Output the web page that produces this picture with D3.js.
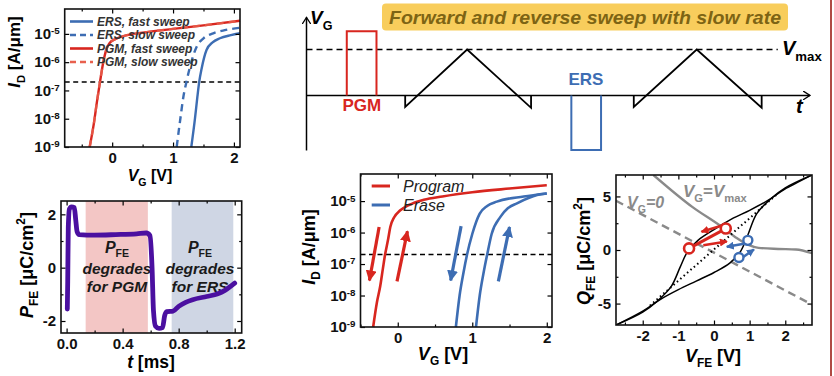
<!DOCTYPE html>
<html><head><meta charset="utf-8">
<script src="https://cdn.jsdelivr.net/npm/d3@7"></script>
<style>
body{margin:0;background:#fff}
svg{display:block;font-family:Arial,"Liberation Sans",sans-serif}
</style>
</head><body><script>
// ---- data ----
// panel a: ID-VG, fast vs slow sweep  [VG, ID]
const pgmFast = [[-0.37,1e-9],[-0.3,7e-9],[-0.25,4e-8],[-0.2,2e-7],[-0.15,9e-7],[-0.1,2.6e-6],[-0.05,4.5e-6],[0.05,6.5e-6],[0.2,8.5e-6],[0.5,1.1e-5],[1.0,1.5e-5],[1.5,2e-5],[2.1,2.9e-5]];
const pgmSlow = pgmFast;
const ersFast = [[1.3,1e-9],[1.36,1e-8],[1.4,6e-8],[1.43,2e-7],[1.47,6e-7],[1.55,2.7e-6],[1.65,5e-6],[1.77,7e-6],[1.95,9e-6],[2.1,1.05e-5]];
const ersSlow = [[1.06,1e-9],[1.12,1e-8],[1.17,6e-8],[1.22,2e-7],[1.28,7e-7],[1.39,3.6e-6],[1.5,7e-6],[1.66,1.05e-5],[1.85,1.35e-5],[2.1,1.65e-5]];
const legendA = ["ERS, fast sweep","ERS, slow sweep","PGM, fast sweep","PGM, slow sweep"];
const readCurrent = 2e-7;

// panel b: P_FE vs time  [t ms, P uC/cm2]
const pfe = [[0.005,-1.55],[0.008,-0.5],[0.012,1.5],[0.02,2.2],[0.035,2.28],[0.055,2.25],[0.065,1.8],[0.075,1.35],[0.09,1.24],[0.2,1.22],[0.35,1.24],[0.5,1.27],[0.57,1.3],[0.595,1.2],[0.61,0],[0.62,-1.6],[0.635,-2.2],[0.66,-2.28],[0.685,-2.25],[0.7,-1.8],[0.715,-1.65],[0.76,-1.63],[0.8,-1.45],[0.85,-1.3],[0.9,-1.2],[1.0,-1.08],[1.08,-0.98],[1.13,-0.85],[1.2,-0.58]];
const pgmWindow = [0.136, 0.58];
const ersWindow = [0.75, 1.19];

// panel c: gate waveform schematic [t a.u., V a.u.]
const pgmPulse = [[8,0],[8,1.4],[13.9,1.4],[13.9,0]];
const ersPulse = [[52.6,0],[52.6,-1.19],[58.5,-1.19],[58.5,0]];
const sweep1 = [[19.6,0],[19.6,-0.25],[31.9,1],[44.6,-0.27],[44.6,0]];
const sweep2 = [[65,0],[65,-0.25],[77.5,1],[90.4,-0.27],[90.4,0]];
const vmax = 1;

// panel d: slow forward/reverse sweep  [VG, ID]
const program = [[-0.33,1e-9],[-0.28,6e-9],[-0.235,2e-8],[-0.2,7e-8],[-0.17,2e-7],[-0.13,6e-7],[-0.1,1.5e-6],[-0.05,3e-6],[0.03,5e-6],[0.15,7.5e-6],[0.35,1.1e-5],[0.6,1.4e-5],[1.0,1.9e-5],[1.5,2.5e-5],[2.0,3.2e-5]];
const eraseRev = [[0.78,1e-9],[0.83,1e-8],[0.88,5e-8],[0.93,2e-7],[1.0,9e-7],[1.1,4e-6],[1.2,7e-6],[1.33,9.6e-6],[1.69,1.4e-5],[2.0,1.75e-5]];
const eraseFwd = [[1.05,1e-9],[1.1,1e-8],[1.15,5e-8],[1.2,2e-7],[1.26,9e-7],[1.38,3.2e-6],[1.48,6e-6],[1.6,8.5e-6],[1.87,1.55e-5],[2.0,1.75e-5]];
const arrowsD = [
  {c:"red",  from:[-0.25,1.5e-6], to:[-0.38,3e-8]},
  {c:"red",  from:[-0.01,2.8e-8], to:[0.13,1.1e-6]},
  {c:"blue", from:[0.85,1.6e-6],  to:[0.71,3e-8]},
  {c:"blue", from:[1.35,2.8e-8],  to:[1.5,1.5e-6]}
];

// panel e: Q_FE - V_FE  [V, Q]
const loopUp = [[-2.75,-7],[-2.0,-5.8],[-1.6,-4.8],[-1.2,-3.4],[-0.95,-1.6],[-0.75,-0.2],[-0.45,0.9],[0,1.9],[0.5,2.9],[1.0,3.7],[1.5,4.6],[2.0,5.7],[2.75,7]];
const loopDown = [[-2.75,-7],[-2.0,-5.7],[-1.5,-4.6],[-1.0,-3.7],[-0.5,-2.9],[0,-2.1],[0.45,-1.2],[0.75,-0.1],[0.95,1.4],[1.2,3.4],[1.6,4.8],[2.0,5.8],[2.75,7]];
const linearQ = [[-1.8,-5.2],[1.8,5.3]];
const loadMax = [[-1.7,7],[-0.6,4.0],[0.2,2.2],[0.6,1.2],[0.95,0.5],[1.25,0.2],[1.8,0.1],[2.3,0.05],[2.75,-0.3]];
const loadZero = [[-2.75,4.6],[2.75,-5.1]];
const redPts = [[-0.7,0.15],[0.33,2.0]];
const bluePts = [[0.95,0.9],[0.7,-0.7]];
const arrowsE = [
  {c:"red",  from:[0.3,2.35], to:[-0.35,1.7]},
  {c:"red",  from:[-0.3,0.45], to:[0.36,0.8]},
  {c:"blue", from:[0.88,0.6], to:[0.36,0.3]},
  {c:"blue", from:[0.82,-0.65], to:[1.12,0.05]}
];

const RED = "#d8261f", BLUE = "#3d6db3", PURPLE = "#4b10a0", GRAY = "#8a8a8a";

const svg = d3.select("body").append("svg").attr("width",834).attr("height",376);
const defs = svg.append("defs");

function marker(id, color, len, wid, open) {
  const m = defs.append("marker").attr("id",id).attr("markerUnits","userSpaceOnUse")
    .attr("viewBox",`0 0 ${len} ${wid}`).attr("markerWidth",len).attr("markerHeight",wid)
    .attr("refX",len-1).attr("refY",wid/2).attr("orient","auto");
  if (open) m.append("path").attr("d",`M0,0L${len-1},${wid/2}L0,${wid}`).attr("fill","none").attr("stroke",color).attr("stroke-width",1.3);
  else m.append("path").attr("d",`M0,0L${len},${wid/2}L0,${wid}Z`).attr("fill",color);
}
marker("axArrow","#000",8,9,true);
marker("redBig",RED,11,11);
marker("blueBig",BLUE,11,11);
marker("redSmall",RED,8,8);
marker("blueSmall",BLUE,8,8);

// rich text: parts = [{t, i, sub, sup}]
function rich(x, y, parts, size, attrs = {}) {
  const t = svg.append("text").attr("x",x).attr("y",y).attr("font-size",size).attr("font-weight","bold");
  Object.entries(attrs).forEach(([k,v]) => t.attr(k,v));
  let shift = 0;
  parts.forEach(p => {
    const s = t.append("tspan").text(p.t);
    const want = p.sub ? 0.3*size : p.sup ? -0.45*size : 0;
    if (want !== shift) { s.attr("dy", want - shift); shift = want; }
    if (p.sub || p.sup) s.attr("font-size", size*0.66);
    if (p.i) s.attr("font-style","italic");
  });
  return t;
}

function logLabels(g) {
  g.selectAll(".tick text").each(function(d) {
    const t = d3.select(this).text(null);
    t.append("tspan").text("10");
    t.append("tspan").attr("dy","-0.5em").attr("font-size","0.65em").text(Math.round(Math.log10(d)));
  });
}

// frame + inward ticks on all sides
function frame(x, y, o) {
  const [x0,x1] = x.range(), [yb,yt] = y.range();
  const g = svg.append("g");
  const put = (axis, tr) => g.append("g").attr("transform",tr).call(axis).call(a => a.select(".domain").remove());
  if (o.xMinor) {
    put(d3.axisBottom(x).tickValues(o.xMinor).tickSize(-2.5).tickFormat(""), `translate(0,${yb})`);
    put(d3.axisTop(x).tickValues(o.xMinor).tickSize(-2.5).tickFormat(""), `translate(0,${yt})`);
  }
  if (o.yMinor) {
    put(d3.axisLeft(y).tickValues(o.yMinor).tickSize(-2.5).tickFormat(""), `translate(${x0},0)`);
    put(d3.axisRight(y).tickValues(o.yMinor).tickSize(-2.5).tickFormat(""), `translate(${x1},0)`);
  }
  put(d3.axisTop(x).tickValues(o.xTicks).tickSize(-4.5).tickFormat(""), `translate(0,${yt})`);
  put(d3.axisRight(y).tickValues(o.yTicks).tickSize(-4.5).tickFormat(""), `translate(${x1},0)`);
  put(d3.axisBottom(x).tickValues(o.xTicks).tickSize(-4.5).tickPadding(5).tickFormat(o.xFmt), `translate(0,${yb})`);
  const ly = put(d3.axisLeft(y).tickValues(o.yTicks).tickSize(-4.5).tickPadding(5).tickFormat(o.yFmt || (d=>d)), `translate(${x0},0)`);
  g.selectAll(".tick line").attr("stroke","#000").attr("stroke-width",1.2);
  g.selectAll(".tick text").attr("font-size",o.fs||14).attr("font-weight","bold").attr("fill","#111")
    .attr("font-family","Arial, 'Liberation Sans', sans-serif");
  if (o.log) logLabels(ly);
  g.append("rect").attr("x",x0).attr("y",yt).attr("width",x1-x0).attr("height",yb-yt)
    .attr("fill","none").attr("stroke","#111").attr("stroke-width",1.6);
  return g;
}

function path(data, x, y, attrs, curve = d3.curveMonotoneX) {
  const p = svg.append("path").datum(data)
    .attr("d", d3.line().x(d=>x(d[0])).y(d=>y(d[1])).curve(curve))
    .attr("fill","none");
  Object.entries(attrs).forEach(([k,v]) => p.attr(k,v));
  return p;
}

// ================= panel a =================
{
  const x = d3.scaleLinear().domain([-0.78,2.1]).range([64.7,240]);
  const y = d3.scaleLog().domain([1e-9,10**-4.12]).range([147,9]);
  path([[-0.78,readCurrent],[2.1,readCurrent]], x, y, {stroke:"#000","stroke-width":1.4,"stroke-dasharray":"5,3.5"}, d3.curveLinear);
  path(ersFast, x, y, {stroke:BLUE,"stroke-width":2.4});
  path(ersSlow, x, y, {stroke:BLUE,"stroke-width":2.4,"stroke-dasharray":"7,5"});
  path(pgmFast, x, y, {stroke:RED,"stroke-width":2.4});
  path(pgmSlow, x, y, {stroke:"#e8604e","stroke-width":2.4,"stroke-dasharray":"7,5","stroke-opacity":0.8});
  const styles = [[BLUE,null],[BLUE,"6,4"],[RED,null],["#e8604e","6,4"]];
  legendA.forEach((s,i) => {
    const ly = 21.5 + i*13.5;
    svg.append("line").attr("x1",70).attr("x2",93).attr("y1",ly).attr("y2",ly)
      .attr("stroke",styles[i][0]).attr("stroke-width",2.6).attr("stroke-dasharray",styles[i][1]);
    svg.append("text").attr("x",97).attr("y",ly+4.2).attr("font-size",12).attr("font-weight","bold")
      .attr("font-style","italic").attr("fill","#333").text(s);
  });
  frame(x, y, {xTicks:[0,1,2], xMinor:[-0.5,0.5,1.5], yTicks:[1e-9,1e-8,1e-7,1e-6,1e-5], xFmt:d=>d, log:true, fs:15});
  rich(20, 52, [{t:"I",i:true},{t:"D",sub:true},{t:" [A/μm]"}], 17, {"text-anchor":"middle",transform:"rotate(-90,20,52)"});
  rich(150, 181, [{t:"V",i:true},{t:"G",sub:true},{t:" [V]"}], 16, {"text-anchor":"middle"});
}

// ================= panel b =================
{
  const x = d3.scaleLinear().domain([-0.04,1.25]).range([61,241.7]);
  const y = d3.scaleLinear().domain([-2.45,2.5]).range([333,201]);
  svg.append("rect").attr("x",x(pgmWindow[0])).attr("width",x(pgmWindow[1])-x(pgmWindow[0]))
    .attr("y",201).attr("height",132).attr("fill","#f3c6c5");
  svg.append("rect").attr("x",x(ersWindow[0])).attr("width",x(ersWindow[1])-x(ersWindow[0]))
    .attr("y",201).attr("height",132).attr("fill","#cfd6e4");
  [[117,"PGM"],[200,"ERS"]].forEach(([cx,w]) => {
    rich(cx, 252.5, [{t:"P",i:true},{t:"FE",sub:true}], 16, {"text-anchor":"middle",fill:"#1a1a1a"});
    svg.append("text").attr("x",cx).attr("y",274).attr("text-anchor","middle").attr("font-size",15.5)
      .attr("font-weight","bold").attr("font-style","italic").attr("fill","#1a1a1a").text("degrades");
    svg.append("text").attr("x",cx).attr("y",292).attr("text-anchor","middle").attr("font-size",15.5)
      .attr("font-weight","bold").attr("font-style","italic").attr("fill","#1a1a1a").text("for " + w);
  });
  path(pfe, x, y, {stroke:PURPLE,"stroke-width":4.8,"stroke-linejoin":"round","stroke-linecap":"round"});
  frame(x, y, {xTicks:[0,0.4,0.8,1.2], xMinor:[0.2,0.6,1.0], yTicks:[-2,0,2], yMinor:[-1,1], xFmt:d3.format(".1f"), fs:15});
  rich(33, 265, [{t:"P",i:true},{t:"FE",sub:true},{t:" [μC/cm"},{t:"2",sup:true},{t:"]"}], 18, {"text-anchor":"middle",transform:"rotate(-90,33,265)"});
  rich(151, 368, [{t:"t",i:true},{t:" [ms]"}], 17.5, {"text-anchor":"middle"});
}

// ================= panel c =================
{
  const x = d3.scaleLinear().domain([0,100]).range([306.5,810]);
  const y = d3.scaleLinear().domain([0,1]).range([95.4,49.5]);
  svg.append("rect").attr("x",382).attr("y",3.5).attr("width",406).attr("height",27).attr("rx",4)
    .attr("fill","#f8cd5c");
  svg.append("text").attr("x",585).attr("y",23.5).attr("text-anchor","middle").attr("font-size",18.5)
    .attr("font-weight","bold").attr("font-style","italic").attr("fill","#7d6414")
    .attr("textLength",392).attr("lengthAdjust","spacingAndGlyphs")
    .text("Forward and reverse sweep with slow rate");
  path([[0,vmax],[93.6,vmax]], x, y, {stroke:"#000","stroke-width":1.5,"stroke-dasharray":"6,4"}, d3.curveLinear);
  path([[0,-1.2],[0,1.7]], x, y, {stroke:"#000","stroke-width":1.5,"marker-end":"url(#axArrow)"}, d3.curveLinear);
  path([[0,0],[100,0]], x, y, {stroke:"#000","stroke-width":1.5,"marker-end":"url(#axArrow)"}, d3.curveLinear);
  path(pgmPulse, x, y, {stroke:RED,"stroke-width":2}, d3.curveLinear);
  path(ersPulse, x, y, {stroke:BLUE,"stroke-width":2}, d3.curveLinear);
  path(sweep1, x, y, {stroke:"#000","stroke-width":1.8}, d3.curveLinear);
  path(sweep2, x, y, {stroke:"#000","stroke-width":1.8}, d3.curveLinear);
  rich(310, 24, [{t:"V",i:true},{t:"G",sub:true}], 19, {});
  svg.append("text").attr("x",x(11)).attr("y",111).attr("text-anchor","middle").attr("font-size",17)
    .attr("font-weight","bold").attr("fill",RED).text("PGM");
  svg.append("text").attr("x",x(55.5)).attr("y",85).attr("text-anchor","middle").attr("font-size",17)
    .attr("font-weight","bold").attr("fill",BLUE).text("ERS");
  rich(796, 113, [{t:"t",i:true}], 20, {});
  rich(782, 55, [{t:"V",i:true},{t:"max",sub:true}], 20, {});
}

// ================= panel d =================
{
  const x = d3.scaleLinear().domain([-0.5,2.07]).range([360.5,552]);
  const y = d3.scaleLog().domain([1e-9,10**-4.14]).range([327,174]);
  path([[-0.5,readCurrent],[2.07,readCurrent]], x, y, {stroke:"#000","stroke-width":1.4,"stroke-dasharray":"5,3.5"}, d3.curveLinear);
  path(eraseRev, x, y, {stroke:BLUE,"stroke-width":2.6});
  path(eraseFwd, x, y, {stroke:BLUE,"stroke-width":2.6});
  path(program, x, y, {stroke:RED,"stroke-width":2.6});
  arrowsD.forEach(a => {
    path([a.from,a.to], x, y, {stroke:a.c==="red"?RED:BLUE,"stroke-width":3.2,
      "marker-end":`url(#${a.c}Big)`}, d3.curveLinear);
  });
  [["Program",RED,186],["Erase",BLUE,205]].forEach(([s,c,ly]) => {
    svg.append("line").attr("x1",371.7).attr("x2",390).attr("y1",ly).attr("y2",ly).attr("stroke",c).attr("stroke-width",3);
    svg.append("text").attr("x",403).attr("y",ly+5.5).attr("font-size",16).attr("font-style","italic")
      .attr("fill","#222").text(s);
  });
  frame(x, y, {xTicks:[0,1,2], xMinor:[-0.5,0.5,1.5], yTicks:[1e-9,1e-8,1e-7,1e-6,1e-5], xFmt:d=>d, log:true, fs:15});
  rich(315, 247, [{t:"I",i:true},{t:"D",sub:true},{t:" [A/μm]"}], 18, {"text-anchor":"middle",transform:"rotate(-90,315,247)"});
  rich(443, 360, [{t:"V",i:true},{t:"G",sub:true},{t:" [V]"}], 18, {"text-anchor":"middle"});
}

// ================= panel e =================
{
  const x = d3.scaleLinear().domain([-2.75,2.75]).range([616,812]);
  const y = d3.scaleLinear().domain([-7,7]).range([325,175]);
  const clip = defs.append("clipPath").attr("id","clipE");
  clip.append("rect").attr("x",616).attr("y",175).attr("width",196).attr("height",150);
  const ce = {"clip-path":"url(#clipE)"};
  path(loadZero, x, y, {...ce, stroke:GRAY,"stroke-width":2.4,"stroke-dasharray":"8,5"}, d3.curveLinear);
  path(loadMax, x, y, {...ce, stroke:GRAY,"stroke-width":2.4});
  path(linearQ, x, y, {stroke:"#000","stroke-width":2,"stroke-dasharray":"1.5,3"}, d3.curveLinear);
  path(loopUp, x, y, {...ce, stroke:"#000","stroke-width":1.5}, d3.curveCatmullRom);
  path(loopDown, x, y, {...ce, stroke:"#000","stroke-width":1.5}, d3.curveCatmullRom);
  path(redPts, x, y, {stroke:RED,"stroke-width":3}, d3.curveLinear);
  arrowsE.forEach(a => {
    path([a.from,a.to], x, y, {stroke:a.c==="red"?RED:BLUE,"stroke-width":2.6,
      "marker-end":`url(#${a.c}Small)`}, d3.curveLinear);
  });
  svg.selectAll(null).data(redPts).enter().append("circle")
    .attr("cx",d=>x(d[0])).attr("cy",d=>y(d[1])).attr("r",5).attr("fill","#fff").attr("stroke",RED).attr("stroke-width",2.6);
  svg.selectAll(null).data(bluePts).enter().append("circle")
    .attr("cx",d=>x(d[0])).attr("cy",d=>y(d[1])).attr("r",4.5).attr("fill","#fff").attr("stroke",BLUE).attr("stroke-width",2.4);
  rich(683, 197, [{t:"V",i:true},{t:"G",sub:true},{t:"="},{t:"V",i:true},{t:"max",sub:true}], 17, {fill:GRAY});
  rich(627, 208, [{t:"V",i:true},{t:"G",sub:true},{t:"=0",i:true}], 16, {fill:GRAY});
  frame(x, y, {xTicks:[-2,-1,0,1,2], xMinor:[-2.5,-1.5,-0.5,0.5,1.5,2.5], yTicks:[-5,0,5], yMinor:[-2.5,2.5], xFmt:d=>d, fs:15});
  rich(590, 251, [{t:"Q",i:true},{t:"FE",sub:true},{t:" [μC/cm"},{t:"2",sup:true},{t:"]"}], 18, {"text-anchor":"middle",transform:"rotate(-90,590,251)"});
  rich(713, 362, [{t:"V",i:true},{t:"FE",sub:true},{t:" [V]"}], 18, {"text-anchor":"middle"});
}

// figure border at right
svg.append("line").attr("x1",831).attr("x2",831).attr("y1",0).attr("y2",376).attr("stroke","#b04a44").attr("stroke-width",2);
</script></body></html>
